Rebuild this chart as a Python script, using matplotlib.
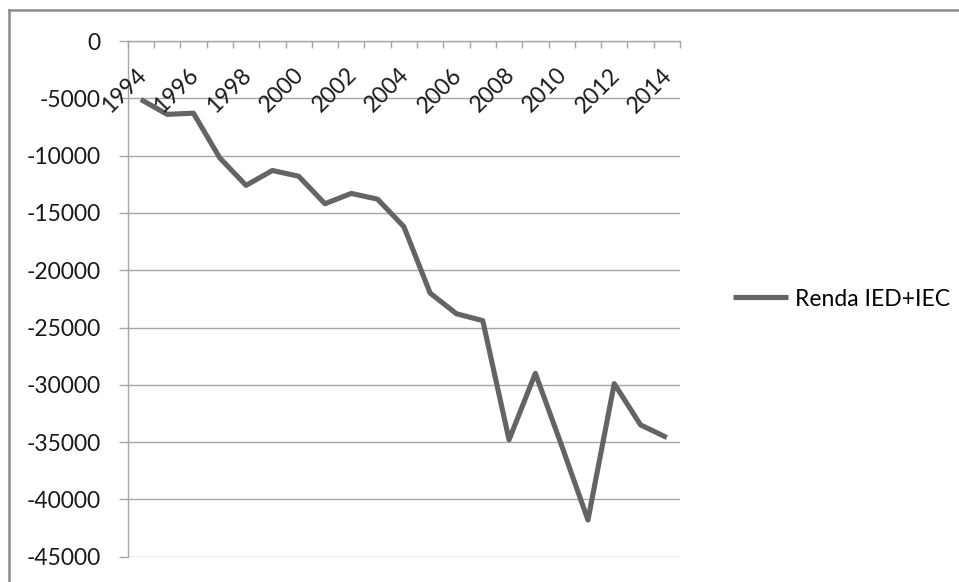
import matplotlib
matplotlib.use("Agg")
import matplotlib.pyplot as plt
from matplotlib.lines import Line2D

years = list(range(1994, 2015))
renda = [-5100, -6400, -6300, -10200, -12600, -11300, -11800, -14200, -13300, -13800,
         -16200, -22000, -23800, -24400, -34800, -29000, -35300, -41800, -29900, -33500, -34600]
label_years = [y for y in years if (y - 1994) % 2 == 0]
year_labels = [str(y) for y in label_years]
yticks = list(range(0, -50000, -5000))
series_name = "Renda IED+IEC"

plt.rcParams['font.family'] = ['Lato', 'DejaVu Sans']
W, H = 959, 582
fig = plt.figure(figsize=(W / 100, H / 100), dpi=100)
ax = fig.add_axes([127.7 / W, 1 - 556.7 / H, (680 - 127.7) / W, (556.7 - 41) / H])

grid_c = '#a6a6a6'
txt_c = '#1a1a1a'
fs = 16.5
line, = ax.plot(years, renda, color='#646464', lw=3.7, solid_joinstyle='round',
                solid_capstyle='butt', label=series_name)
ax.set_xlim(1993.5, 2014.5)
ax.set_ylim(-45000, 0)

ax.set_yticks(yticks)
ax.set_yticklabels([str(v) for v in yticks], fontsize=fs, color=txt_c)
ax.yaxis.grid(True, color=grid_c, lw=1.0)
ax.set_axisbelow(True)
ax.tick_params(axis='y', direction='out', length=6.5, width=1.0, color=grid_c, pad=13)

# x axis at top (value 0)
ax.xaxis.set_ticks_position('top')
ax.set_xticks([y - 0.5 for y in years] + [years[-1] + 0.5])
ax.set_xticklabels([])
ax.tick_params(axis='x', direction='in', length=5, width=1.0, color=grid_c)

for y, lab in zip(label_years, year_labels):
    ax.annotate(lab, xy=(y, 1.0), xycoords=('data', 'axes fraction'),
                xytext=(1.5, -22), textcoords='offset points', rotation=45,
                rotation_mode='anchor', ha='right', va='center', fontsize=fs,
                color=txt_c)

for s in ['right', 'bottom']:
    ax.spines[s].set_visible(False)
ax.spines['top'].set_color(grid_c)
ax.spines['left'].set_color(grid_c)
ax.spines['top'].set_linewidth(1.0)
ax.spines['left'].set_linewidth(1.0)

# legend
fig.legend(handles=[line], labels=[series_name], loc='center left',
           bbox_to_anchor=(724 / W, 1 - 299 / H), frameon=False, fontsize=fs,
           handlelength=2.4, handletextpad=0.3, borderaxespad=0)

# outer chart border (top and left visible)
bc = '#8c8c8c'
fig.add_artist(Line2D([9 / W, 1.0], [1 - 10 / H, 1 - 10 / H], color=bc, lw=1.8,
                      transform=fig.transFigure))
fig.add_artist(Line2D([9 / W, 9 / W], [0.0, 1 - 10 / H], color=bc, lw=1.8,
                      transform=fig.transFigure))

fig.savefig('out.png', dpi=100)
